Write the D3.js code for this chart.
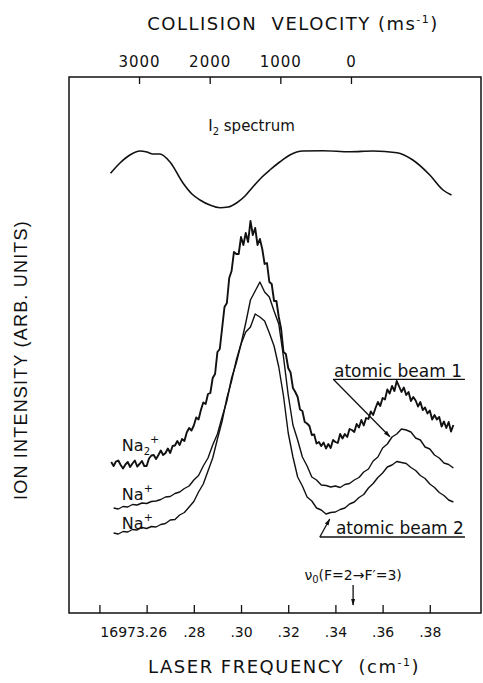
<!DOCTYPE html>
<html>
  <head>
    <script src="https://d3js.org/d3.v7.min.js"></script>
  </head>
  <style>
    body { margin: 0; background: #fff; }
    text { fill: #111; }
  </style>
  <body>
    <svg width="483" height="683"></svg>
    <script>
      // laser frequency grid (cm-1, offset from 16973)
      var freq = [0.246,0.248,0.250,0.252,0.254,0.256,0.258,0.260,0.262,0.264,0.266,0.268,0.270,0.272,0.274,0.276,0.278,0.280,0.282,0.284,0.286,0.288,0.290,0.292,0.294,0.296,0.298,0.300,0.302,0.304,0.306,0.308,0.310,0.312,0.314,0.316,0.318,0.320,0.322,0.324,0.326,0.328,0.330,0.332,0.334,0.336,0.338,0.340,0.342,0.344,0.346,0.348,0.350,0.352,0.354,0.356,0.358,0.360,0.362,0.364,0.366,0.368,0.370,0.372,0.374,0.376,0.378,0.380,0.382,0.384,0.386,0.388,0.390];

      // Na2+ trace is sampled finer (noisy)
      var na2Freq = [0.245,0.246,0.247,0.248,0.249,0.250,0.251,0.252,0.253,0.254,0.255,0.256,0.257,0.258,0.259,0.260,0.261,0.262,0.263,0.264,0.265,0.266,0.267,0.268,0.269,0.270,0.271,0.272,0.273,0.274,0.275,0.276,0.277,0.278,0.279,0.280,0.281,0.282,0.283,0.284,0.285,0.286,0.287,0.288,0.289,0.290,0.291,0.292,0.293,0.294,0.295,0.296,0.297,0.298,0.299,0.300,0.301,0.302,0.303,0.304,0.305,0.306,0.307,0.308,0.309,0.310,0.311,0.312,0.313,0.314,0.315,0.316,0.317,0.318,0.319,0.320,0.321,0.322,0.323,0.324,0.325,0.326,0.327,0.328,0.329,0.330,0.331,0.332,0.333,0.334,0.335,0.336,0.337,0.338,0.339,0.340,0.341,0.342,0.343,0.344,0.345,0.346,0.347,0.348,0.349,0.350,0.351,0.352,0.353,0.354,0.355,0.356,0.357,0.358,0.359,0.360,0.361,0.362,0.363,0.364,0.365,0.366,0.367,0.368,0.369,0.370,0.371,0.372,0.373,0.374,0.375,0.376,0.377,0.378,0.379,0.380,0.381,0.382,0.383,0.384,0.385,0.386,0.387,0.388,0.389,0.390];

      // ion signals (arb. units)
      var na2Signal = [15.1,14.7,15.15,15.25,14.8,14.45,14.85,15.1,14.6,14.95,15.25,14.65,14.9,15.2,14.7,14.7,15.45,15.75,15.8,15.4,15.8,16.25,15.8,16.0,16.45,16.0,16.7,16.75,17.2,16.8,17.4,17.2,18.05,18.5,18.25,18.75,19.55,19.35,20.3,21.05,20.9,21.9,22.0,23.5,23.9,26.1,26.4,28.5,30.6,31.0,33.5,34.2,36.1,35.9,35.9,37.6,36.8,38.0,37.1,39.2,37.8,38.5,36.8,37.4,36.4,34.9,35.0,33.1,32.9,31.2,31.2,29.6,28.4,26.1,25.9,24.5,24.05,22.5,22.1,21.6,20.35,20.2,19.1,18.95,18.7,17.8,17.85,16.95,17.1,16.7,17.05,16.45,16.9,16.5,17.3,17.1,17.0,17.9,17.45,17.9,17.6,18.4,18.3,18.1,18.9,18.55,19.3,18.75,19.5,19.4,20.15,19.8,20.5,21.1,20.7,21.5,21.35,22.35,21.95,22.7,22.2,23.2,22.65,22.1,22.55,21.8,22.1,21.2,21.6,21.25,20.65,21.1,20.3,20.55,19.95,20.25,19.35,19.8,19.35,19.6,18.65,19.15,18.5,19.1,18.15,18.8];
      var beam1Signal = [10.5,10.4,10.65,10.6,10.85,10.8,11.0,10.95,11.15,11.2,11.35,11.6,11.65,11.95,12.1,12.45,12.7,13.3,13.75,14.7,15.5,16.8,17.9,19.6,21.2,23.5,25.0,26.9,29.0,31.3,32.2,33.1,32.1,31.6,30.2,28.9,25.6,21.8,18.8,17.3,15.6,14.7,13.6,13.3,12.8,12.75,12.6,12.7,12.55,12.85,12.95,13.3,13.55,14.1,14.4,15.2,15.6,16.5,16.9,17.6,17.9,18.4,18.3,18.1,17.5,17.3,16.6,16.4,15.8,15.5,15.0,14.85,14.5];
      var beam2Signal = [8.0,7.9,8.15,8.1,8.35,8.3,8.55,8.45,8.65,8.6,8.85,8.95,9.3,9.35,9.8,10.05,10.6,11.15,12.1,12.9,14.2,15.5,17.4,19.2,21.5,23.2,25.3,26.9,28.1,28.6,29.9,29.6,29.2,28.0,26.7,24.6,21.7,18.0,15.6,13.6,12.7,11.6,11.2,10.5,10.3,9.9,10.05,10.1,10.35,10.5,10.9,11.1,11.55,11.85,12.5,12.95,13.55,14.0,14.6,14.8,15.15,15.05,14.95,14.55,14.25,13.75,13.45,12.9,12.55,12.05,11.75,11.3,11.1];

      // I2 absorption spectrum
      var i2Freq = [0.2447,0.2487,0.2529,0.2572,0.2601,0.2627,0.2656,0.2699,0.2754,0.2792,0.2826,0.2868,0.2911,0.2945,0.2981,0.3017,0.3050,0.3089,0.3122,0.3164,0.3207,0.3262,0.3347,0.3461,0.3559,0.3661,0.3728,0.3800,0.3856,0.3892];
      var i2Signal = [43.97,45.0,45.8,46.2,46.1,45.9,45.9,45.1,43.0,41.9,41.3,40.8,40.53,40.6,41.0,41.7,42.6,43.6,44.3,45.1,45.8,46.2,46.23,46.13,46.2,46.03,45.3,43.8,42.3,41.8];

      // ticks
      var freqTicks = [0.24,0.26,0.28,0.30,0.32,0.34,0.36,0.38];
      var freqTickLabels = ["","16973.26",".28",".30",".32",".34",".36",".38"];
      var velTicks = [3000,2000,1000,0];
      var nu0 = 0.3475;       // F=2 -> F'=3 line
      var velZero = 0.3466;   // zero collision velocity
      var velPer1000 = 0.02994;

      var svg = d3.select("svg");
      var plotLeft = 69, plotRight = 481, plotTop = 77, plotBottom = 613;
      var font = "DejaVu Sans";

      var xScale = d3.scaleLinear().domain([0.2271, 0.4017]).range([plotLeft, plotRight]);
      var yScale = d3.scaleLinear().domain([0, 53.6]).range([plotBottom, plotTop]);
      var velScale = d3.scaleLinear()
        .domain([0, 3000])
        .range([xScale(velZero), xScale(velZero - 3 * velPer1000)]);

      svg.append("defs").append("marker")
        .attr("id", "arr")
        .attr("viewBox", "0 0 10 10")
        .attr("refX", 9).attr("refY", 5)
        .attr("markerWidth", 7).attr("markerHeight", 7)
        .attr("markerUnits", "userSpaceOnUse")
        .attr("orient", "auto")
        .append("path")
        .attr("d", "M0,2 L10,5 L0,8 Z")
        .attr("fill", "#111");

      // frame
      svg.append("rect")
        .attr("x", plotLeft).attr("y", plotTop)
        .attr("width", plotRight - plotLeft).attr("height", plotBottom - plotTop)
        .attr("fill", "none").attr("stroke", "#111").attr("stroke-width", 1.5);

      // bottom axis
      var xAxis = svg.append("g")
        .attr("transform", "translate(0," + plotBottom + ")")
        .call(d3.axisBottom(xScale)
          .tickValues(freqTicks)
          .tickSize(-8)
          .tickPadding(14)
          .tickFormat(function (d, i) { return freqTickLabels[i]; }));
      xAxis.select(".domain").remove();
      xAxis.selectAll("line").attr("stroke", "#111").attr("stroke-width", 1.3);
      xAxis.selectAll("text")
        .style("font-family", font).style("font-size", "14px").attr("fill", "#111");
      xAxis.selectAll("text").filter(function (d, i) { return i === 1; })
        .attr("text-anchor", "end").attr("dx", 20);

      // top axis (collision velocity)
      var vAxis = svg.append("g")
        .attr("transform", "translate(0," + plotTop + ")")
        .call(d3.axisTop(velScale)
          .tickValues(velTicks)
          .tickSize(-7)
          .tickPadding(10)
          .tickFormat(d3.format("d")));
      vAxis.select(".domain").remove();
      vAxis.selectAll("line").attr("stroke", "#111").attr("stroke-width", 1.3);
      vAxis.selectAll("text")
        .style("font-family", font).style("font-size", "15px")
        .style("letter-spacing", "1px").attr("fill", "#111");

      // titles
      svg.append("text")
        .attr("x", 293).attr("y", 30)
        .attr("text-anchor", "middle")
        .style("font-family", font).style("font-size", "18px")
        .style("letter-spacing", "1.5px")
        .html('COLLISION&#160; VELOCITY (ms<tspan dy="-7" font-size="11">-1</tspan><tspan dy="7">)</tspan>');

      svg.append("text")
        .attr("x", 284).attr("y", 673)
        .attr("text-anchor", "middle")
        .style("font-family", font).style("font-size", "18px")
        .style("letter-spacing", "1.5px")
        .html('LASER FREQUENCY&#160; (cm<tspan dy="-7" font-size="11">-1</tspan><tspan dy="7">)</tspan>');

      svg.append("text")
        .attr("transform", "translate(27,360)rotate(-90)")
        .attr("text-anchor", "middle")
        .style("font-family", "Liberation Sans").style("font-size", "18px")
        .style("letter-spacing", "1.2px")
        .text("ION INTENSITY (ARB. UNITS)");

      // curves
      var line = d3.line()
        .x(function (d) { return xScale(d[0]); })
        .y(function (d) { return yScale(d[1]); });

      var series = [
        { x: na2Freq, values: na2Signal, width: 1.9 },
        { x: freq, values: beam1Signal, width: 1.4 },
        { x: freq, values: beam2Signal, width: 1.4 }
      ];
      series.forEach(function (s) {
        svg.append("path")
          .datum(s.x.map(function (f, i) { return [f, s.values[i]]; }))
          .attr("d", line)
          .attr("fill", "none")
          .attr("stroke", "#111")
          .attr("stroke-width", s.width)
          .attr("stroke-linejoin", "round");
      });

      svg.append("path")
        .datum(i2Freq.map(function (f, i) { return [f, i2Signal[i]]; }))
        .attr("d", line.curve(d3.curveMonotoneX))
        .attr("fill", "none")
        .attr("stroke", "#111")
        .attr("stroke-width", 1.6);

      // labels
      svg.append("text")
        .attr("x", xScale(0.2861)).attr("y", yScale(48.2))
        .style("font-family", font).style("font-size", "15px")
        .html('I<tspan dy="4" font-size="10">2</tspan><tspan dy="-4"> spectrum</tspan>');

      svg.append("text")
        .attr("x", xScale(0.2495)).attr("y", yScale(16.2))
        .style("font-family", font).style("font-size", "16px")
        .html('Na<tspan dy="4" font-size="10">2</tspan><tspan dy="-12" font-size="11">+</tspan>');
      [11.3, 8.4].forEach(function (v) {
        svg.append("text")
          .attr("x", xScale(0.2495)).attr("y", yScale(v))
          .style("font-family", font).style("font-size", "16px")
          .html('Na<tspan dy="-8" font-size="11">+</tspan>');
      });

      // atomic beam 1
      svg.append("text")
        .attr("x", xScale(0.3394)).attr("y", yScale(23.6))
        .style("font-family", font).style("font-size", "17px")
        .text("atomic beam 1");
      svg.append("line")
        .attr("x1", xScale(0.3391)).attr("y1", yScale(23.37))
        .attr("x2", xScale(0.3949)).attr("y2", yScale(23.37))
        .attr("stroke", "#111").attr("stroke-width", 1.3);
      svg.append("line")
        .attr("x1", xScale(0.3391)).attr("y1", yScale(23.37))
        .attr("x2", xScale(0.3631)).attr("y2", yScale(17.63))
        .attr("stroke", "#111").attr("stroke-width", 1.3)
        .attr("marker-end", "url(#arr)");

      // atomic beam 2
      svg.append("text")
        .attr("x", xScale(0.3402)).attr("y", yScale(7.9))
        .style("font-family", font).style("font-size", "17px")
        .text("atomic beam 2");
      svg.append("line")
        .attr("x1", xScale(0.3334)).attr("y1", yScale(7.6))
        .attr("x2", xScale(0.3949)).attr("y2", yScale(7.6))
        .attr("stroke", "#111").attr("stroke-width", 1.3);
      svg.append("line")
        .attr("x1", xScale(0.3334)).attr("y1", yScale(7.6))
        .attr("x2", xScale(0.3376)).attr("y2", yScale(9.4))
        .attr("stroke", "#111").attr("stroke-width", 1.3)
        .attr("marker-end", "url(#arr)");

      // nu0 marker
      svg.append("text")
        .attr("x", xScale(nu0)).attr("y", yScale(3.3))
        .attr("text-anchor", "middle")
        .style("font-family", font).style("font-size", "14px")
        .html('ν<tspan dy="3" font-size="10">0</tspan><tspan dy="-3">(F=2→F′=3)</tspan>');
      svg.append("line")
        .attr("x1", xScale(nu0)).attr("y1", yScale(2.8))
        .attr("x2", xScale(nu0)).attr("y2", yScale(0.8))
        .attr("stroke", "#111").attr("stroke-width", 1.3)
        .attr("marker-end", "url(#arr)");
    </script>
  </body>
</html>
